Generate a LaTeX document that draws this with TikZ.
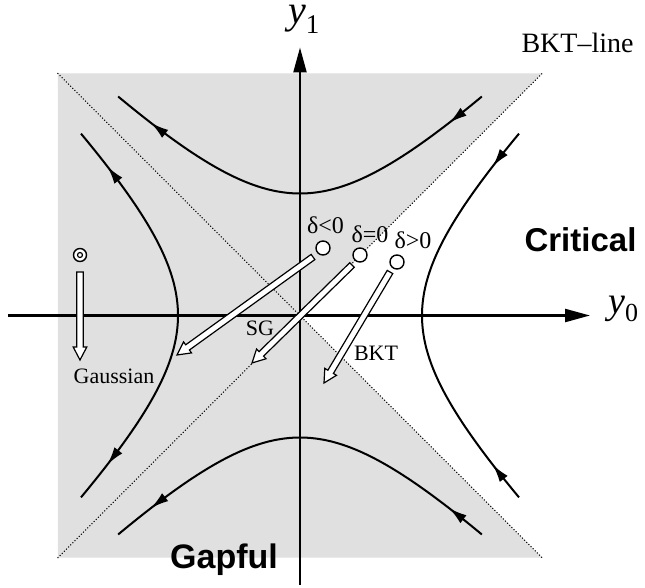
\documentclass[tikz,border=0pt]{standalone}
\usepackage{fontspec}
\setmainfont{Liberation Serif}
\newfontfamily\hsans{Liberation Sans}
\usetikzlibrary{arrows.meta,decorations.markings,calc}

\tikzset{
 flow/.style={line width=2pt},
 outarrow/.style={postaction={decorate}, decoration={markings, mark=at position 0.8 with {\arrow{Latex[length=18pt,width=10pt]}}}},
 inarrow/.style={postaction={decorate}, decoration={markings, mark=at position 0.8 with {\arrowreversed{Latex[length=18pt,width=10pt]}}}},
 axis/.style={line width=2.3pt, -{Triangle[length=25pt,width=13pt]}},
 bktline/.style={line width=1.5pt, dash pattern=on 0pt off 3pt, line cap=round, black},
 hollow/.style={draw, fill=white, line width=1.2pt, line join=miter},
 fp/.style={circle, draw, fill=white, line width=1.4pt, minimum size=14pt, inner sep=0pt},
 lbl/.style={font=\fontsize{22}{22}\selectfont, inner sep=0pt},
 dlbl/.style={font=\fontsize{24}{24}\selectfont, inner sep=0pt},
 big/.style={font=\hsans\bfseries\fontsize{33}{33}\selectfont, inner sep=0pt},
}

\newcommand\hollowarr[2]{%
  \path let \p1=($(#2)-(#1)$), \n1={atan2(\y1,\x1)}, \n2={veclen(\x1,\y1)} in
    \pgfextra{\xdef\hwang{\n1}\xdef\hwlen{\n2}};
  \begin{scope}[shift={(#1)}, rotate=\hwang]
    \draw[hollow] (0,-3.2) -- ({\hwlen-13},-3.2) -- ({\hwlen-13},-6.8) -- (\hwlen,0)
      -- ({\hwlen-13},6.8) -- ({\hwlen-13},3.2) -- (0,3.2) -- cycle;
  \end{scope}}

\begin{document}
\begin{tikzpicture}[x=1pt,y=1pt]
\useasboundingbox (-300,-271.5) rectangle (345,315.5);
\fill[white] (-300,-271.5) rectangle (345,315.5);

% shaded region
\fill[black!12] (-242,-242) -- (242,-242) -- (0,0) -- (242,242) -- (-242,242) -- cycle;
% BKT lines
\draw[bktline] (-242,-242) -- (242,242);
\draw[bktline] (-242,242) -- (242,-242);

% flow lines (hyperbolas)
% top
\draw[flow, outarrow] plot[domain=0:1.19, samples=40, smooth] ({-61*(exp(\x)-exp(-\x))}, {61*(exp(\x)+exp(-\x))});
\draw[flow, inarrow] plot[domain=0:1.19, samples=40, smooth] ({61*(exp(\x)-exp(-\x))}, {61*(exp(\x)+exp(-\x))});
% bottom
\draw[flow, outarrow] plot[domain=0:1.19, samples=40, smooth] ({-61*(exp(\x)-exp(-\x))}, {-61*(exp(\x)+exp(-\x))});
\draw[flow, inarrow] plot[domain=0:1.19, samples=40, smooth] ({61*(exp(\x)-exp(-\x))}, {-61*(exp(\x)+exp(-\x))});
% left
\draw[flow, outarrow] plot[domain=0:1.19, samples=40, smooth] ({-61*(exp(\x)+exp(-\x))}, {61*(exp(\x)-exp(-\x))});
\draw[flow, outarrow] plot[domain=0:1.19, samples=40, smooth] ({-61*(exp(\x)+exp(-\x))}, {-61*(exp(\x)-exp(-\x))});
% right
\draw[flow, inarrow] plot[domain=0:1.19, samples=40, smooth] ({61*(exp(\x)+exp(-\x))}, {61*(exp(\x)-exp(-\x))});
\draw[flow, inarrow] plot[domain=0:1.19, samples=40, smooth] ({61*(exp(\x)+exp(-\x))}, {-61*(exp(\x)-exp(-\x))});

% axes
\coordinate (xs) at (-292,0);
\coordinate (xe) at (290,0);
\coordinate (ys) at (0,-269);
\coordinate (ye) at (0,268);
\draw[axis] (xs) -- (xe);
\draw[axis] (ys) -- (ye);

% fixed points
\node[fp] (c1) at (23,67.5) {};
\node[fp] (c2) at (60,60.5) {};
\node[fp] (c3) at (97,53.5) {};
\node[fp, minimum size=13pt] (g) at (-220,60.5) {};
\node[circle, draw, line width=1.2pt, minimum size=5pt, inner sep=0pt] (gi) at (g) {};

% hollow arrows
\coordinate (a1s) at (13,58.5);   \coordinate (a1t) at (-123,-39.5);
\coordinate (a2s) at (52,50.5);   \coordinate (a2t) at (-48,-47.5);
\coordinate (a3s) at (90,43.5);   \coordinate (a3t) at (24,-67.5);
\coordinate (a4s) at (-220,43.5); \coordinate (a4t) at (-220,-44.5);
\hollowarr{a1s}{a1t}
\hollowarr{a2s}{a2t}
\hollowarr{a3s}{a3t}
\hollowarr{a4s}{a4t}

% labels
\node[dlbl, anchor=base] (l1) at (25.5,82.5) {δ<0};
\node[dlbl, anchor=base] (l2) at (70,73.5) {δ=0};
\node[dlbl, anchor=base] (l3) at (113,67.5) {δ>0};
\node[lbl, anchor=base] (sg) at (-40,-19.5) {SG};
\node[lbl, anchor=base] (bkt) at (76,-44.5) {BKT};
\node[lbl, anchor=base] (gauss) at (-186,-67.5) {Gaussian};
\node[inner sep=0pt, anchor=base, font=\fontsize{28}{28}\selectfont] (bl) at (277.5,262.5) {BKT–line};
\node[big, anchor=base] (crit) at (280.5,64.5) {Critical};
\node[big, anchor=base, font=\hsans\bfseries\fontsize{34}{34}\selectfont] (gap) at (-76,-252.5) {Gapful};
\node[inner sep=0pt, anchor=base west] (y1) at (-12,291.5) {{\fontsize{40}{40}\selectfont\itshape y}{\fontsize{27}{27}\selectfont\raisebox{-10pt}{1}}};
\node[inner sep=0pt, anchor=base west] (y0) at (308,2.5) {{\fontsize{38}{38}\selectfont\itshape y}{\fontsize{26}{26}\selectfont\raisebox{-8pt}{0}}};
\end{tikzpicture}
\end{document}
